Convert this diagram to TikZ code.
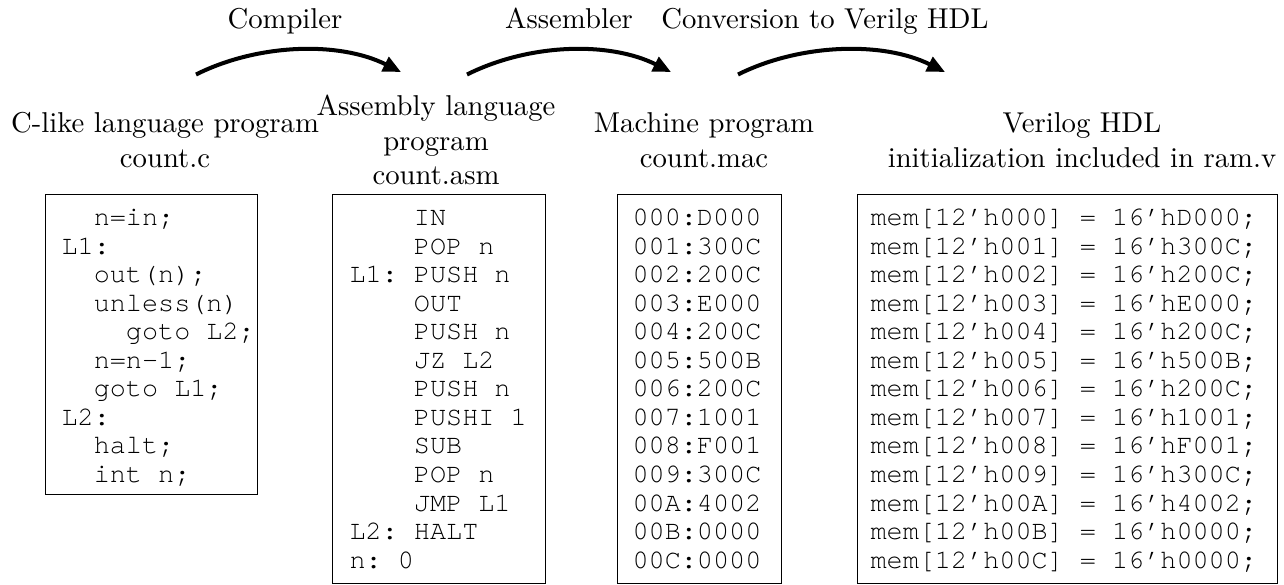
\documentclass[tikz,border=0pt]{standalone}
\usepackage{fontspec}
\setmonofont{TeX Gyre Cursor}
\usetikzlibrary{arrows.meta}
% one drawing unit = one pixel of the 1284 x 584 canvas, y pointing down
\def\pxu{0.3484pt}
\tikzset{
  lbl/.style={font=\fontsize{10}{12}\selectfont, align=center, inner sep=0pt},
  codebox/.style={draw, line width=0.4pt, anchor=north west, inner sep=0pt},
  code/.style={font=\ttfamily\fontsize{9.35}{9.95}\selectfont\frenchspacing,
               align=left, anchor=north west, inner sep=0pt},
  conv/.style={line width=1.4pt, -{Triangle[length=6.2pt,width=5.4pt]}}
}
\begin{document}
\begin{tikzpicture}[x=\pxu, y=-\pxu]
\useasboundingbox (0,0) rectangle (1284,584);

% translation steps
\node[lbl, anchor=base] (tcomp) at (285,28) {Compiler};
\node[lbl, anchor=base] (tasm)  at (569,28) {Assembler};
\node[lbl, anchor=base] (tconv) at (825,28) {Conversion to Verilg HDL};

\coordinate (a1s) at (196,74.5); \coordinate (a1e) at (401,72);
\coordinate (a2s) at (467,74.5); \coordinate (a2e) at (671,72);
\coordinate (a3s) at (738,74.5); \coordinate (a3e) at (945,72);
\draw[conv] (a1s) .. controls +(62,-31) and +(-62,-31) .. (a1e);
\draw[conv] (a2s) .. controls +(62,-31) and +(-62,-31) .. (a2e);
\draw[conv] (a3s) .. controls +(62,-31) and +(-62,-31) .. (a3e);

% file titles
\node[lbl, anchor=north] (lc)   at (165,107.9)  {\strut C-like language program\\count.c};
\node[lbl, anchor=north] (lasm) at (436,90.9)   {\strut Assembly language\\program\\count.asm};
\node[lbl, anchor=north] (lmac) at (704,107.9)  {\strut Machine program\\count.mac};
\node[lbl, anchor=north] (lv)   at (1082,107.9) {\strut Verilog HDL\\initialization included in ram.v};

% listing frames
\node[codebox, minimum width={212*\pxu}, minimum height={300*\pxu}] (b1) at (45,194) {};
\node[codebox, minimum width={213*\pxu}, minimum height={389*\pxu}] (b2) at (332,194) {};
\node[codebox, minimum width={164*\pxu}, minimum height={389*\pxu}] (b3) at (617,194) {};
\node[codebox, minimum width={420*\pxu}, minimum height={389*\pxu}] (b4) at (857,194) {};

% listings
\node[code] (c1) at (61,204.9) {\strut ~~n=in;\\
L1:\\
~~out(n);\\
~~unless(n)\\
~~~~goto L2;\\
~~n=n-1;\\
~~goto L1;\\
L2:\\
~~halt;\\
~~int n;};

\node[code] (c2) at (349,204.9) {\strut ~~~~IN\\
~~~~POP n\\
L1: PUSH n\\
~~~~OUT\\
~~~~PUSH n\\
~~~~JZ L2\\
~~~~PUSH n\\
~~~~PUSHI 1\\
~~~~SUB\\
~~~~POP n\\
~~~~JMP L1\\
L2: HALT\\
n: 0};

\node[code] (c3) at (632,204.9) {\strut 000:D000\\
001:300C\\
002:200C\\
003:E000\\
004:200C\\
005:500B\\
006:200C\\
007:1001\\
008:F001\\
009:300C\\
00A:4002\\
00B:0000\\
00C:0000};

\node[code] (c4) at (870,204.9) {\strut mem[12’h000] = 16’hD000;\\
mem[12’h001] = 16’h300C;\\
mem[12’h002] = 16’h200C;\\
mem[12’h003] = 16’hE000;\\
mem[12’h004] = 16’h200C;\\
mem[12’h005] = 16’h500B;\\
mem[12’h006] = 16’h200C;\\
mem[12’h007] = 16’h1001;\\
mem[12’h008] = 16’hF001;\\
mem[12’h009] = 16’h300C;\\
mem[12’h00A] = 16’h4002;\\
mem[12’h00B] = 16’h0000;\\
mem[12’h00C] = 16’h0000;};
\end{tikzpicture}
\end{document}
